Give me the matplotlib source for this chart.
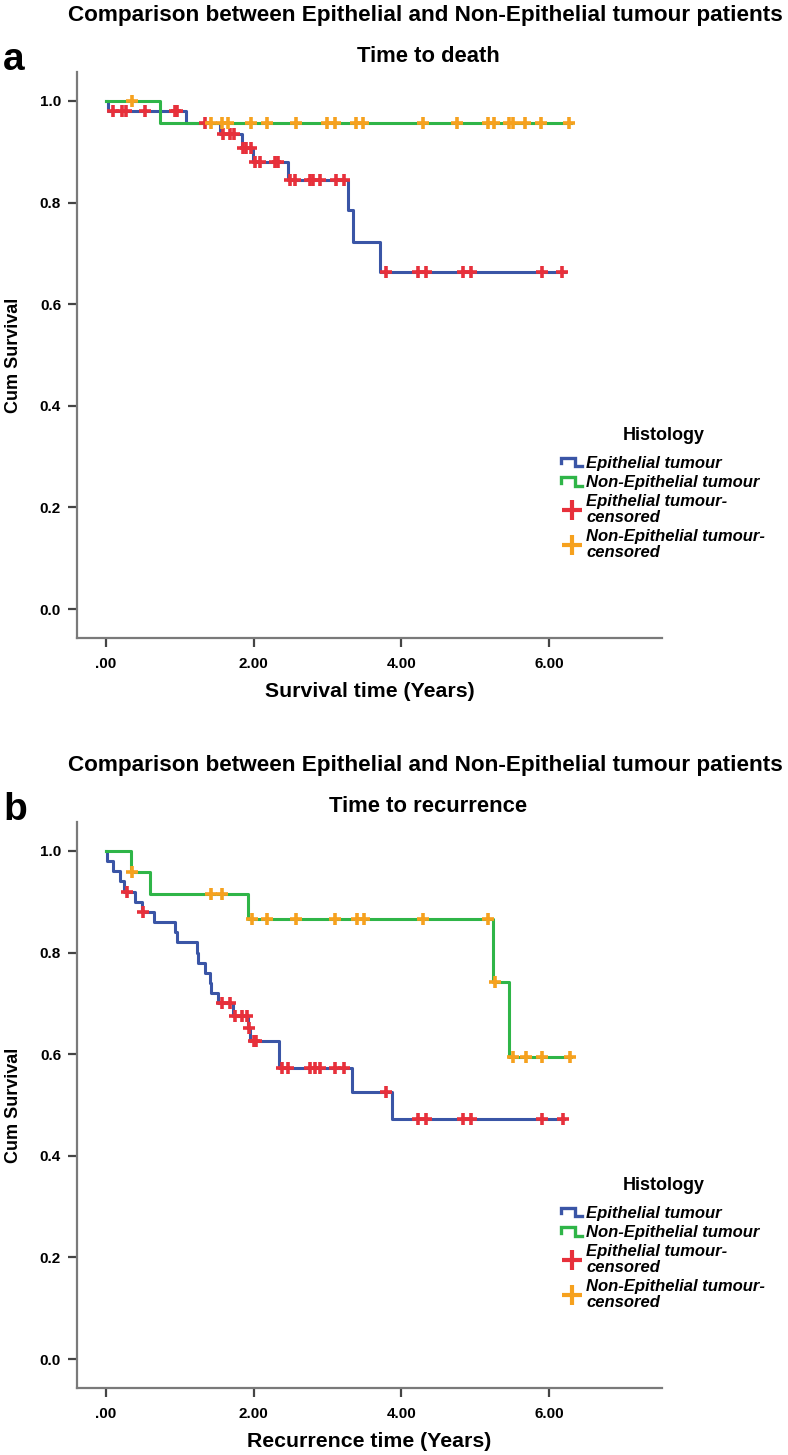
import numpy as np
import matplotlib.pyplot as plt
from matplotlib.lines import Line2D
from matplotlib.legend_handler import HandlerBase


SUPTITLE = "Comparison between Epithelial and Non-Epithelial tumour patients"
GROUP_LABELS = ["Epithelial tumour", "Non-Epithelial tumour",
                "Epithelial tumour-\ncensored", "Non-Epithelial tumour-\ncensored"]

X_TICKS = [0, 2, 4, 6]
X_TICK_LABELS = [".00", "2.00", "4.00", "6.00"]
Y_TICKS = [0.0, 0.2, 0.4, 0.6, 0.8, 1.0]

# panel a: time to death (step times and survival after each step)
death_epi_t = [0.0, 0.03, 1.09, 1.55, 1.84, 1.99, 2.46, 3.28, 3.35, 3.71]
death_epi_s = [1.0, 0.980, 0.957, 0.935, 0.908, 0.880, 0.845, 0.786, 0.723, 0.663]
death_epi_end = 6.22
death_epi_cens = [0.10, 0.22, 0.28, 0.53, 0.94, 0.97, 1.34, 1.58, 1.68, 1.73,
                  1.86, 1.90, 1.97, 2.02, 2.09, 2.29, 2.33, 2.49, 2.56, 2.76,
                  2.81, 2.90, 3.12, 3.23, 3.80, 4.22, 4.34, 4.84, 4.95, 5.91, 6.18]

death_non_t = [0.0, 0.74]
death_non_s = [1.0, 0.957]
death_non_end = 6.30
death_non_cens = [0.35, 1.43, 1.57, 1.66, 1.97, 2.18, 2.58, 2.99, 3.10, 3.39,
                  3.48, 4.29, 4.76, 5.17, 5.26, 5.46, 5.51, 5.68, 5.89, 6.27]

# panel b: time to recurrence
rec_epi_t = [0.0, 0.02, 0.10, 0.19, 0.24, 0.40, 0.49, 0.65, 0.94, 0.97, 1.23,
             1.25, 1.34, 1.41, 1.43, 1.52, 1.72, 1.925, 1.955, 2.34, 3.33, 3.87]
rec_epi_s = [1.0, 0.98, 0.96, 0.94, 0.92, 0.90, 0.88, 0.86, 0.84, 0.82, 0.80,
             0.78, 0.76, 0.74, 0.72, 0.70, 0.676, 0.651, 0.626, 0.573, 0.525, 0.472]
rec_epi_end = 6.20
rec_epi_cens = [0.29, 0.51, 1.57, 1.68, 1.75, 1.85, 1.91, 1.94, 2.00, 2.04,
                2.38, 2.47, 2.77, 2.83, 2.90, 3.10, 3.22, 3.80, 4.22, 4.33,
                4.84, 4.95, 5.90, 6.19]

rec_non_t = [0.0, 0.34, 0.60, 1.93, 5.245, 5.46]
rec_non_s = [1.0, 0.958, 0.915, 0.867, 0.743, 0.595]
rec_non_end = 6.30
rec_non_cens = [0.35, 1.43, 1.57, 1.98, 2.18, 2.58, 3.10, 3.40, 3.49, 4.30,
                5.17, 5.27, 5.51, 5.69, 5.90, 6.28]

BLUE = "#3a55a6"
GREEN = "#2fb548"
RED = "#e7303b"
ORANGE = "#f6a11e"
AXIS_GREY = "#7a7a7a"

W, H = 788, 1455
FONT = ["Liberation Sans", "DejaVu Sans"]


class StepHandler(HandlerBase):
    def create_artists(self, legend, orig_handle, xdescent, ydescent,
                       width, height, fontsize, trans):
        x0 = -xdescent
        x1 = x0 + width
        xm = x0 + 0.65 * width
        lo = -ydescent + 0.1 * height
        hi = -ydescent + 0.8 * height
        line = Line2D([x0, x0, xm, xm, x1], [lo + 0.25 * height, hi, hi, lo, lo],
                      color=orig_handle.get_color(), lw=2.4,
                      solid_joinstyle="miter", transform=trans)
        return [line]


def draw_curve(ax, times, surv, end, cens, line_color, mark_color):
    t = np.append(times, end)
    s = np.append(surv, surv[-1])
    ax.step(t, s, where="post", color=line_color, lw=2.2, zorder=2)
    idx = np.searchsorted(times, cens, side="right") - 1
    ax.plot(cens, np.asarray(surv)[idx], ls="none", marker="+", ms=8.5,
            mew=2.6, color=mark_color, zorder=3)


def style_axes(ax, xlabel):
    ax.set_xlim(-0.39, 7.53)
    ax.set_ylim(-0.057, 1.057)
    for side in ["top", "right"]:
        ax.spines[side].set_visible(False)
    for side in ["left", "bottom"]:
        ax.spines[side].set_color(AXIS_GREY)
        ax.spines[side].set_linewidth(1.6)
    ax.set_xticks(X_TICKS)
    ax.set_xticklabels(X_TICK_LABELS)
    ax.set_yticks(Y_TICKS)
    ax.set_yticklabels([f"{v:.1f}" for v in Y_TICKS])
    ax.tick_params(length=6.5, width=1.6, color="#444444", pad=5,
                   labelsize=11)
    ax.tick_params(axis="x", pad=7)
    for lab in ax.get_xticklabels() + ax.get_yticklabels():
        lab.set_fontweight("bold")
        lab.set_family(FONT)
    ax.set_xlabel(xlabel, fontsize=15.3, fontweight="bold", family=FONT,
                  labelpad=8)

    handles = [Line2D([], [], color=BLUE), Line2D([], [], color=GREEN),
               Line2D([], [], color=RED, ls="none", marker="+", ms=14, mew=3),
               Line2D([], [], color=ORANGE, ls="none", marker="+", ms=14, mew=3)]
    leg = ax.legend(handles, GROUP_LABELS, title="Histology",
                    loc="upper left", bbox_to_anchor=(0.828, 0.372),
                    frameon=False, handlelength=1.25, handletextpad=0.25,
                    labelspacing=0.25, borderaxespad=0, borderpad=0,
                    handler_map={handles[0]: StepHandler(),
                                 handles[1]: StepHandler()},
                    prop={"family": FONT, "weight": "bold", "style": "italic",
                          "size": 12})
    for txt in leg.get_texts():
        txt.set_linespacing(1.08)
    leg.get_title().set_fontweight("bold")
    leg.get_title().set_fontsize(13)
    leg.get_title().set_family(FONT)
    leg._legend_box.sep = 8


fig = plt.figure(figsize=(W / 100, H / 100), dpi=100)

ax_a = fig.add_axes([77 / W, 1 - 638 / H, 585 / W, 566 / H])
draw_curve(ax_a, death_epi_t, death_epi_s, death_epi_end, death_epi_cens, BLUE, RED)
draw_curve(ax_a, death_non_t, death_non_s, death_non_end, death_non_cens, GREEN, ORANGE)
style_axes(ax_a, "Survival time (Years)")

ax_b = fig.add_axes([77 / W, 1 - 1388 / H, 585 / W, 566 / H])
draw_curve(ax_b, rec_epi_t, rec_epi_s, rec_epi_end, rec_epi_cens, BLUE, RED)
draw_curve(ax_b, rec_non_t, rec_non_s, rec_non_end, rec_non_cens, GREEN, ORANGE)
style_axes(ax_b, "Recurrence time (Years)")

for top, letter, sub in [(0, "a", "Time to death"), (750, "b", "Time to recurrence")]:
    fig.text(425 / W, 1 - (top + 15) / H, SUPTITLE, ha="center", va="center",
             fontsize=16.2, fontweight="bold", family=FONT)
    fig.text(428 / W, 1 - (top + 57) / H, sub, ha="center", va="center",
             fontsize=15.8, fontweight="bold", family=FONT)
    fig.text(3 / W, 1 - (top + 60) / H, letter, ha="left", va="center",
             fontsize=28, fontweight="bold", family=FONT)
    fig.text(14 / W, 1 - (top + 355) / H, "Cum Survival", ha="center",
             va="center", rotation=90, fontsize=13, fontweight="bold",
             family=FONT)

fig.savefig("out.png", dpi=100)
